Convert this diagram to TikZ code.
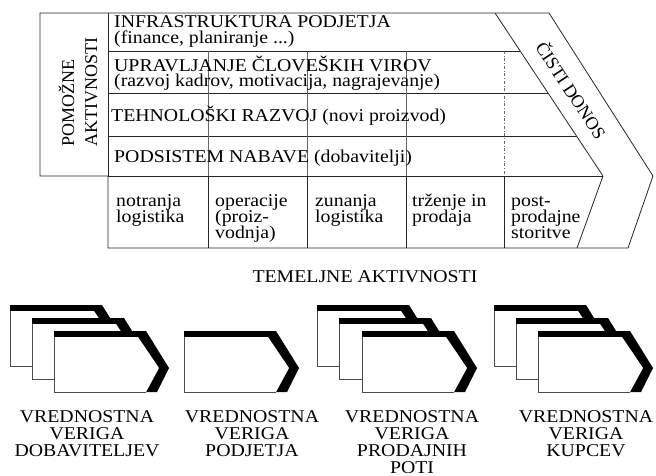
\documentclass[tikz,border=0pt]{standalone}
\usepackage{fontspec}
\setmainfont{Liberation Serif}[FakeStretch=1.1]
\newfontfamily\plainserif{Liberation Serif}
\usetikzlibrary{positioning}

% one value chain icon: left x, top y
\newcommand{\vchain}[2]{%
  \begin{scope}[shift={(#1,#2)}]
    \fill[black] (0,0) -- (92,0) -- (115,37) -- (103,61) -- (0,61) -- cycle;
    \fill[white] (0,6) -- (84,6) -- (105,37) -- (92,61) -- (0,61) -- cycle;
    \draw[black!70, line width=0.7pt] (0,6) -- (0,61) -- (92,61);
  \end{scope}}

\begin{document}
\begin{tikzpicture}[x=1pt, y=-1pt, line join=miter,
    frame/.style={draw=black!85, line width=0.8pt},
    thinsep/.style={draw=black!60, line width=0.5pt},
    rowtxt/.style={anchor=base west, inner sep=0pt, font=\fontsize{18}{18}\selectfont},
    chaintxt/.style={anchor=base, inner sep=0pt, font=\fontsize{18}{18}\selectfont},
    turned/.style={inner sep=0pt, font=\plainserif\fontsize{18}{18}\selectfont}]
  \useasboundingbox (0,0) rectangle (656,476);

  % outline of the chain
  \draw[frame] (40,13) -- (549,13) -- (653,176) -- (628,248) -- (108,248) -- (108,176) -- (40,176) -- cycle;
  \draw[frame] (495,13) -- (603,176) -- (577,248);
  \draw[frame] (108,13) -- (108,176) -- (603,176);
  \draw[frame] (108,51) -- (520,51) (108,93) -- (548,93) (108,136) -- (577,136);
  \draw[thinsep] (208,51) -- (208,176) (307,51) -- (307,176) (406,51) -- (406,176);
  \draw[thinsep, dash dot] (504,51) -- (504,176);
  \draw[frame] (208,176) -- (208,248) (307,176) -- (307,248) (406,176) -- (406,248) (504,176) -- (504,248);

  \node[turned, rotate=90, anchor=base west] (pom) at (74,147) {POMOŽNE};
  \node[turned, rotate=90, anchor=base west] (akt) at (97,147) {AKTIVNOSTI};
  \node[turned, rotate=-56.5] (donos) at (572,90) {ČISTI DONOS};

  % support activities
  \node[rowtxt] (infra) at (114,28) {INFRASTRUKTURA PODJETJA};
  \node[rowtxt] (infrasub) at (114,44) {(finance, planiranje ...)};
  \node[rowtxt] (hr) at (114,72) {UPRAVLJANJE ČLOVEŠKIH VIROV};
  \node[rowtxt] (hrsub) at (114,87) {(razvoj kadrov, motivacija, nagrajevanje)};
  \node[rowtxt] (tech) at (111,122) {TEHNOLOŠKI RAZVOJ (novi proizvod)};
  \node[rowtxt] (nab) at (114,162) {PODSISTEM NABAVE (dobavitelji)};

  % primary activities
  \node[rowtxt] (inl1) at (116,206) {notranja};
  \node[rowtxt] (inl2) at (116,222) {logistika};
  \node[rowtxt] (op1) at (215,206) {operacije};
  \node[rowtxt] (op2) at (215,222) {(proiz-};
  \node[rowtxt] (op3) at (215,238) {vodnja)};
  \node[rowtxt] (outl1) at (315,206) {zunanja};
  \node[rowtxt] (outl2) at (315,222) {logistika};
  \node[rowtxt] (mkt1) at (412,206) {trženje in};
  \node[rowtxt] (mkt2) at (412,222) {prodaja};
  \node[rowtxt] (srv1) at (511,206) {post-};
  \node[rowtxt] (srv2) at (511,222) {prodajne};
  \node[rowtxt] (srv3) at (511,238) {storitve};

  \node[chaintxt] (temelj) at (365,282) {TEMELJNE AKTIVNOSTI};

  % value system
  \vchain{10}{305} \vchain{32}{318} \vchain{54}{331}
  \vchain{184}{331}
  \vchain{317}{305} \vchain{339}{318} \vchain{362}{331}
  \vchain{494}{305} \vchain{516}{318} \vchain{538}{331}

  \foreach \nm/\x/\last in {dob/87/DOBAVITELJEV, pod/252/PODJETJA, prod/412/PRODAJNIH, kup/586/KUPCEV} {
    \node[chaintxt] (\nm1) at (\x,422) {VREDNOSTNA};
    \node[chaintxt] (\nm2) at (\x,439) {VERIGA};
    \node[chaintxt] (\nm3) at (\x,456) {\last};
  }
  \node[chaintxt] (prod4) at (412,473) {POTI};
\end{tikzpicture}
\end{document}
